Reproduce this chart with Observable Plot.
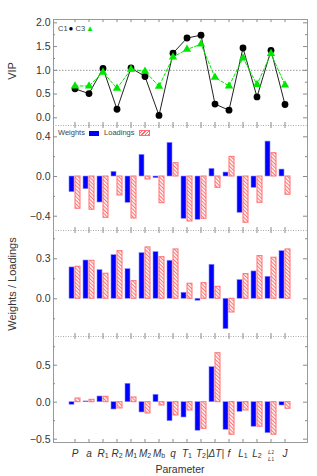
<!DOCTYPE html>
<html><head><meta charset="utf-8">
<script src="https://cdn.jsdelivr.net/npm/d3@7"></script>
<script src="https://cdn.jsdelivr.net/npm/@observablehq/plot@0.6"></script>
<style>
body{margin:0;background:#fff;font-family:"Liberation Sans",Arial,sans-serif;color:#333;}
#wrap{position:relative;width:317px;height:476px;overflow:hidden;}
.panel{position:absolute;left:0;}
.rot{position:absolute;transform:translate(-50%,-50%) rotate(-90deg);white-space:nowrap;font-size:11px;color:#333;}
.lab{position:absolute;transform:translate(-50%,-50%);white-space:nowrap;font-size:10.5px;color:#333;}
.leg{position:absolute;white-space:nowrap;font-size:7.5px;color:#444;line-height:1;}
.sw{display:inline-block;vertical-align:middle;}
</style></head><body>
<svg width="0" height="0" style="position:absolute">
<defs><pattern id="hatch" patternUnits="userSpaceOnUse" width="2.6" height="2.6" patternTransform="rotate(-45)">
<rect width="2.6" height="2.6" fill="#fff2f2"/><line x1="0.5" y1="0" x2="0.5" y2="2.6" stroke="#ff6a6a" stroke-width="0.9"/></pattern></defs></svg>
<div id="wrap"></div>
<script>
// ---- data ----
const params = ["P","a","R1","R2","M1","M2","Mb","q","T1","T2","dT","f","L1","L2","L2L1","J"];
const tickLabels = ["P","a","R_1","R_2","M_1","M_2","M_b","q","T_1","T_2","|ΔT|","f","L_1","L_2","L_2/L_1","J"];
const vipC1 = [0.61,0.51,1.04,0.18,1.05,0.87,0.05,1.36,1.68,1.74,0.29,0.16,1.47,0.44,1.42,0.28];
const vipC3 = [0.67,0.67,0.96,0.62,1.02,0.98,0.66,1.28,1.44,1.55,0.85,0.67,1.26,0.70,1.35,0.69];
const weights1  = [-0.158,-0.128,-0.262,0.047,-0.265,0.218,-0.017,0.339,-0.426,-0.436,0.077,0.040,-0.366,-0.114,0.352,0.070];
const loadings1 = [-0.325,-0.335,-0.416,-0.191,-0.423,-0.030,-0.269,0.134,-0.453,-0.426,-0.114,0.198,-0.466,-0.265,0.235,-0.184];
const weights2  = [0.235,0.287,0.215,0.327,0.222,0.342,0.350,0.285,0.045,-0.015,0.255,-0.228,0.140,0.205,0.165,0.357];
const loadings2 = [0.240,0.285,0.188,0.357,0.132,0.385,0.312,0.370,0.113,0.117,0.090,-0.103,0.185,0.320,0.308,0.370];
const weights3  = [-0.035,0.010,0.077,-0.099,0.249,-0.139,0.100,-0.257,-0.207,-0.386,0.473,-0.373,-0.130,-0.332,-0.419,-0.045];
const loadings3 = [0.050,0.032,0.073,-0.085,0.064,-0.153,-0.045,-0.180,-0.112,-0.360,0.662,-0.440,-0.112,-0.332,-0.440,-0.089];

// ---- layout ----
const W = 317, ML = 53, MR = 10, FW = W - ML - MR;
const wrap = document.getElementById("wrap");
const fmt1 = d3.format(".1f");

function panel({top, height, mT = 0, mB = 0, domain, major, minor, marks, first = false, xaxis = false}) {
  const fh = height - mT - mB;
  const tc = "#8a8a8a";
  const all = [
    ...marks,
    Plot.frame({stroke: "#999"}),
    ...(first ? [] : [
      Plot.ruleY([domain[1]], {stroke: "white", strokeWidth: 1}),
      Plot.ruleY([domain[1]], {stroke: "#aaa", strokeDasharray: "1,1.5"})
    ]),
    Plot.tickX(params, {x: d => d, insetBottom: fh - 3, stroke: tc}),
    Plot.tickX(params, {x: d => d, insetTop: fh - 3, stroke: tc}),
    Plot.tickY(major, {y: d => d, insetRight: FW - 4, stroke: tc}),
    Plot.tickY(major, {y: d => d, insetLeft: FW - 4, stroke: tc}),
    Plot.tickY(minor, {y: d => d, insetRight: FW - 2, stroke: tc}),
    Plot.tickY(minor, {y: d => d, insetLeft: FW - 2, stroke: tc}),
    Plot.axisY(major, {anchor: "left", tickSize: 0, tickPadding: 3, tickFormat: fmt1, label: null})
  ];
  if (xaxis) all.push(Plot.axisX({anchor: "bottom", tickSize: 0, tickPadding: 7, tickFormat: d => d, label: null, fontSize: "10px"}));
  const svg = Plot.plot({
    width: W, height, marginLeft: ML, marginRight: MR, marginTop: mT, marginBottom: mB,
    style: {fontFamily: "Liberation Sans, Arial, sans-serif", fontSize: "10.5px", color: "#333", background: "white"},
    x: {type: "band", domain: params, paddingInner: 0.2, paddingOuter: 0.6, axis: null, label: null},
    y: {domain, axis: null, label: null},
    marks: all
  });
  const div = document.createElement("div");
  div.className = "panel";
  div.style.top = top + "px";
  div.appendChild(svg);
  wrap.appendChild(div);
  return svg;
}

const vip = params.map((p, i) => ({p, c1: vipC1[i], c3: vipC3[i]}));
panel({
  top: 0, height: 125, mT: 19, domain: [-0.162, 2.07],
  major: [0, 0.5, 1, 1.5, 2], minor: [0.25, 0.75, 1.25, 1.75], first: true,
  marks: [
    Plot.ruleY([1], {stroke: "#999", strokeDasharray: "1.5,1.5"}),
    Plot.line(vip, {x: "p", y: "c1", stroke: "#222", strokeWidth: 1}),
    Plot.dot(vip, {x: "p", y: "c1", r: 3.4, fill: "black"}),
    Plot.line(vip, {x: "p", y: "c3", stroke: "#00e600", strokeWidth: 1, strokeDasharray: "3,2"}),
    Plot.dot(vip, {x: "p", y: "c3", r: 3.1, symbol: "triangle", fill: "#00e600"})
  ]
});

function bars(w, l) {
  const d = params.map((p, i) => ({p, w: w[i], l: l[i]}));
  return [
    Plot.barY(d, {x: "p", y: "w", fill: "#0000ff", stroke: "#8c8cff", strokeWidth: 0.6, insetRight: 6}),
    Plot.barY(d, {x: "p", y: "l", fill: "url(#hatch)", stroke: "#ff7070", strokeWidth: 1, insetLeft: 6})
  ];
}
panel({top: 125, height: 105, domain: [-0.544, 0.514], major: [-0.4, 0, 0.4], minor: [-0.2, 0.2],
  marks: bars(weights1, loadings1)});
panel({top: 230, height: 106, domain: [-0.283, 0.512], major: [0, 0.3], minor: [-0.15, 0.15, 0.45],
  marks: bars(weights2, loadings2)});
const last = panel({top: 336, height: 140, mB: 34, domain: [-0.545, 0.888], major: [-0.5, 0, 0.5], minor: [-0.25, 0.25, 0.75],
  marks: bars(weights3, loadings3), xaxis: true});

// rich tick labels (subscripts / fraction)
const NS = "http://www.w3.org/2000/svg";
function ts(parent, txt, attrs) {
  const t = document.createElementNS(NS, "tspan");
  for (const k in attrs) t.setAttribute(k, attrs[k]);
  t.textContent = txt;
  parent.appendChild(t);
  return t;
}
last.querySelectorAll('g[aria-label="x-axis tick label"] text').forEach(el => {
  const i = params.indexOf(el.textContent.trim());
  if (i < 0) return;
  const lab = tickLabels[i];
  el.textContent = "";
  el.setAttribute("font-style", "italic");
  if (lab.includes("/")) {
    const [num, den] = lab.split("/");
    const a = ts(el, "", {x: 0, dy: "-0.5em", "font-size": "6px"});
    ts(a, num.split("_")[0], {});
    ts(a, num.split("_")[1], {"font-style": "normal", "font-size": "4.5px"});
    const b = ts(el, "", {x: 0, dy: "1.15em", "font-size": "6px"});
    ts(b, den.split("_")[0], {});
    ts(b, den.split("_")[1], {"font-style": "normal", "font-size": "4.5px"});
  } else if (lab.includes("_")) {
    const [base, sub] = lab.split("_");
    ts(el, base, {});
    ts(el, sub, {"font-style": "normal", "font-size": "7px", dy: "0.25em"});
  } else {
    el.textContent = lab;
  }
});

// axis titles and legends
function addDiv(cls, html, css) {
  const d = document.createElement("div");
  d.className = cls; d.innerHTML = html; Object.assign(d.style, css); wrap.appendChild(d); return d;
}
addDiv("rot", "VIP", {left: "12px", top: "71px"});
addDiv("rot", "Weights / Loadings", {left: "12px", top: "284px"});
addDiv("lab", "Parameter", {left: "180px", top: "469px"});
addDiv("leg", 'C1<span style="font-size:8px;color:#000;margin-left:1px">●</span> C3<span style="font-size:8px;color:#00e600;margin-left:1px">▲</span>', {left: "58px", top: "25px"});
addDiv("leg", 'Weights <span class="sw" style="width:10px;height:5px;background:#0000ff;margin:0 5px 0 2px"></span>Loadings <span class="sw" style="width:9px;height:4px;border:1px solid #ff7070;background:repeating-linear-gradient(-45deg,#ff6a6a 0 0.9px,#fff2f2 0.9px 2.4px);margin-left:2px"></span>', {left: "58px", top: "129px"});
</script></body></html>
